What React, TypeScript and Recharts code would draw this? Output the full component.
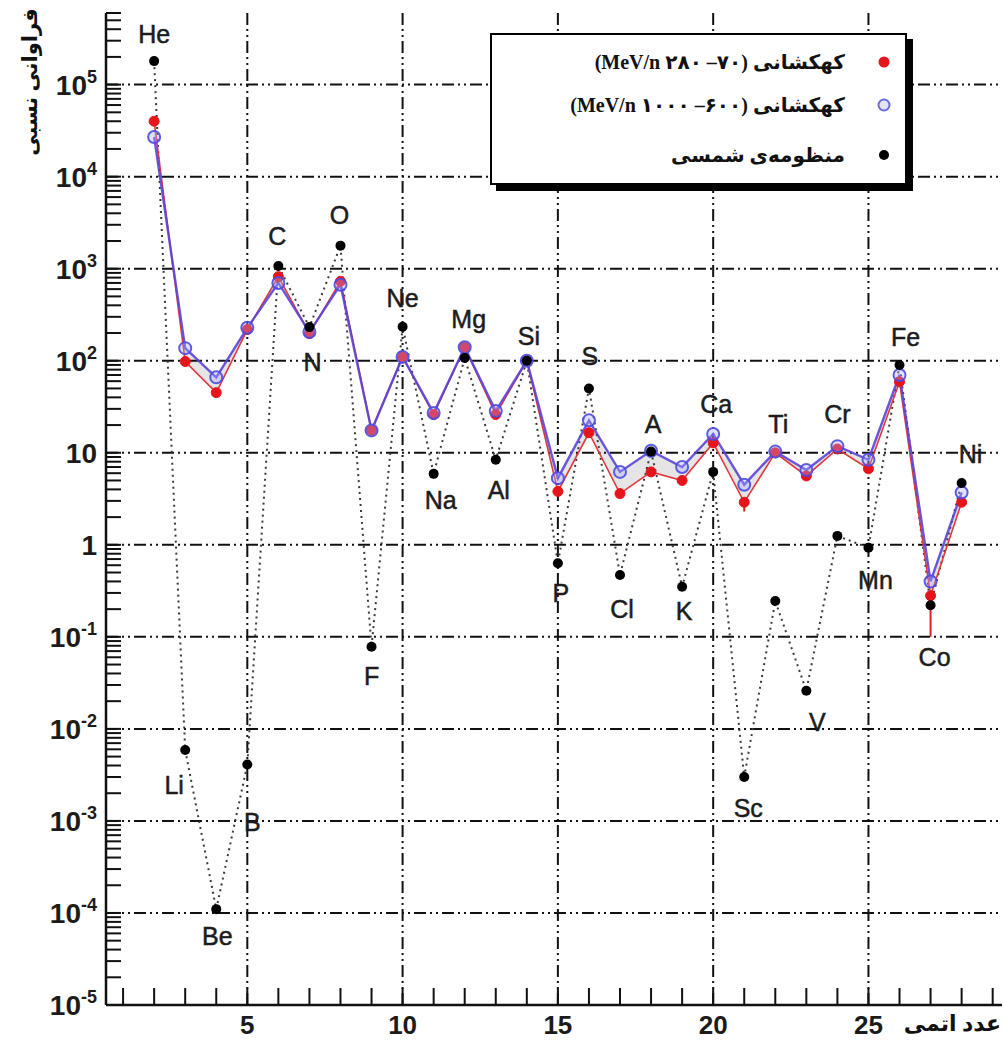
import React from 'react';
import { ComposedChart, Line, Area, XAxis, YAxis, ReferenceLine, LabelList, ErrorBar } from 'recharts';

const atomicNumbers = [2, 3, 4, 5, 6, 7, 8, 9, 10, 11, 12, 13, 14, 15, 16, 17, 18, 19, 20, 21, 22, 23, 24, 25, 26, 27, 28];
const elements = ['He', 'Li', 'Be', 'B', 'C', 'N', 'O', 'F', 'Ne', 'Na', 'Mg', 'Al', 'Si', 'P', 'S', 'Cl', 'A', 'K', 'Ca', 'Sc', 'Ti', 'V', 'Cr', 'Mn', 'Fe', 'Co', 'Ni'];
const solarSystem = [1.8e5, 5.9e-3, 1.1e-4, 4.1e-3, 1.07e3, 232, 1.78e3, 0.078, 234, 5.9, 107, 8.4, 100, 0.63, 50, 0.47, 10.3, 0.35, 6.2, 3.0e-3, 0.245, 0.026, 1.25, 0.93, 90, 0.22, 4.7];
const galactic70to280 = [4.0e4, 98, 45, 218, 820, 197, 730, 17.5, 110, 26, 140, 26, 100, 3.8, 16.5, 3.6, 6.2, 5.0, 12.8, 2.9, 10, 5.6, 11, 6.7, 59, 0.28, 2.9];
const galactic600to1000 = [2.7e4, 137, 66, 228, 700, 205, 670, 17.5, 110, 27, 140, 28.5, 100, 5.3, 22.5, 6.2, 10.5, 7.0, 16, 4.5, 10.3, 6.5, 11.8, 8.4, 70, 0.4, 3.7];
const galactic70to280ErrLow = [0, 0, 0, 0, 0, 0, 0, 0, 0, 0, 0, 0, 0, 0, 0, 0, 0, 0, 0, 0.6, 0, 0, 0, 0, 0, 0.18, 0];
const xTickLabels = [5, 10, 15, 20, 25];
const xMinorTicks = Array.from({ length: 29 }, (_, i) => i + 1);
const yDecades = [-5, -4, -3, -2, -1, 0, 1, 2, 3, 4, 5];
const legendLabels = ['کهکشانی (۷۰– ۲۸۰ MeV/n)', 'کهکشانی (۶۰۰– ۱۰۰۰ MeV/n)', 'منظومه‌ی شمسی'];
const yTitle = 'فراوانی نسبی';
const xTitle = 'عدد اتمی';

// label offsets (pixels) for element symbols relative to the solar point
const labelOffsets: [number, number][] = [
  [0, -27], [-11, 35], [1, 27], [5, 57], [-1, -30], [3, 35], [-1, -31], [0, 29], [0, -29], [7, 26],
  [4, -39], [3, 30], [2, -25], [3, 30], [1, -32], [2, 34], [2, -28], [2, 24], [3, -68], [4, 31],
  [3, -177], [11, 31], [0, -122], [7, 32], [6, -28], [4, 52], [9, -29],
];

const rows = atomicNumbers.map((z, i) => ({
  z,
  sym: elements[i],
  solar: solarSystem[i],
  red: galactic70to280[i],
  blue: galactic600to1000[i],
  band: [galactic70to280[i], galactic600to1000[i]],
  redErr: [galactic70to280ErrLow[i], 0],
}));

const yTicks: number[] = [];
yDecades.forEach((e) => {
  for (let m = 1; m <= 9; m++) {
    const v = Number((m * Math.pow(10, e)).toPrecision(3));
    if (v <= 6e5) yTicks.push(v);
  }
});

const GRID_DASH = '12 4 2 4 2 4';
const AXIS_COLOR = '#111';
const LATIN = "'Liberation Sans', Arial, sans-serif";
const PERSIAN = "'Liberation Serif', 'DejaVu Sans', serif";

const YTick = (props: any) => {
  const { x, y, payload } = props;
  const v = payload.value;
  const e = Math.round(Math.log10(v));
  const major = Math.abs(v - Math.pow(10, e)) < 1e-6 * Math.pow(10, e);
  return (
    <g>
      <line x1={x} x2={x + 15} y1={y} y2={y} stroke={AXIS_COLOR} strokeWidth={2} />
      {major && (
        <text x={x - 9} y={y + 10} textAnchor="end" fontFamily={LATIN} fontWeight="bold" fontSize={28} fill="#1b1b1b">
          {e === 0 ? '1' : e === 1 ? '10' : (
            <>
              <tspan>10</tspan>
              <tspan dy={-12} fontSize={18}>{String(e)}</tspan>
            </>
          )}
        </text>
      )}
    </g>
  );
};

const XTick = (props: any) => {
  const { x, y, payload } = props;
  const v = payload.value;
  return (
    <g>
      <line x1={x} x2={x} y1={y} y2={y - 17} stroke={AXIS_COLOR} strokeWidth={2} />
      {xTickLabels.includes(v) && (
        <text x={x} y={y + 29} textAnchor="middle" fontFamily={LATIN} fontWeight="bold" fontSize={26} fill="#1b1b1b">
          {v}
        </text>
      )}
    </g>
  );
};

const ElementLabel = (p: any) => {
  const i = p.index;
  const [dx, dy] = labelOffsets[i] || [0, 0];
  return (
    <text
      x={p.x + dx}
      y={p.y + dy}
      textAnchor="middle"
      dominantBaseline="central"
      fontFamily={LATIN}
      fontSize={25}
      fill="#1c1c1c"
      stroke="#1c1c1c"
      strokeWidth={0.5}
    >
      {p.value}
    </text>
  );
};

export default function App() {
  return (
    <div style={{ position: 'absolute', left: 0, top: 0, width: 1003, height: 1040, overflow: 'hidden', background: '#fff' }}>
      <ComposedChart width={1003} height={1040} data={rows} margin={{ top: 13, right: 1, bottom: 0, left: 0 }}>
        <XAxis
          type="number"
          dataKey="z"
          domain={[0.45, 29.3]}
          allowDataOverflow
          ticks={xMinorTicks}
          interval={0}
          tick={<XTick />}
          tickLine={false}
          tickSize={0}
          tickMargin={0}
          height={35}
          axisLine={{ stroke: AXIS_COLOR, strokeWidth: 2.5 }}
        />
        <YAxis
          type="number"
          scale="log"
          domain={[1e-5, 6e5]}
          allowDataOverflow
          ticks={yTicks}
          interval={0}
          tick={<YTick />}
          tickLine={false}
          tickSize={0}
          tickMargin={0}
          width={106}
          axisLine={{ stroke: AXIS_COLOR, strokeWidth: 2.5 }}
        />
        {yDecades.filter((e) => e > -5).map((e) => (
          <ReferenceLine key={'h' + e} y={Math.pow(10, e)} stroke={AXIS_COLOR} strokeWidth={2} strokeDasharray={GRID_DASH} />
        ))}
        {xTickLabels.map((v) => (
          <ReferenceLine key={'v' + v} x={v} stroke={AXIS_COLOR} strokeWidth={2} strokeDasharray={GRID_DASH} />
        ))}
        <Area dataKey="band" type="linear" stroke="none" fill="#d4d4d4" fillOpacity={0.6} isAnimationActive={false} />
        <Line dataKey="solar" type="linear" stroke="#3a3a3a" strokeWidth={2} strokeDasharray="2 4" dot={false} isAnimationActive={false} />
        <Line
          dataKey="red"
          type="linear"
          stroke="#e0393c"
          strokeWidth={1.6}
          dot={{ r: 5, fill: '#e8141c', stroke: '#e8141c', strokeWidth: 1 }}
          isAnimationActive={false}
        >
          <ErrorBar dataKey="redErr" direction="y" width={0} stroke="#d22" strokeWidth={2} />
        </Line>
        <Line
          dataKey="blue"
          type="linear"
          stroke="#5a44d8"
          strokeWidth={2.4}
          strokeOpacity={0.9}
          dot={{ r: 6, fill: 'rgba(170,170,255,0.35)', stroke: '#4b4be0', strokeWidth: 2 }}
          isAnimationActive={false}
        />
        <Line
          dataKey="solar"
          type="linear"
          stroke="none"
          dot={{ r: 5, fill: '#000', stroke: '#000', strokeWidth: 0 }}
          isAnimationActive={false}
        >
          <LabelList dataKey="sym" content={<ElementLabel />} />
        </Line>
      </ComposedChart>

      {/* Legend */}
      <div
        style={{
          position: 'absolute',
          left: 490,
          top: 33,
          width: 413,
          height: 148,
          border: '2px solid #000',
          background: '#fff',
          boxShadow: '6px 6px 0 #000',
        }}
      >
        {legendLabels.map((t, i) => {
          const cy = [27, 70, 120][i];
          return (
            <React.Fragment key={i}>
              <div
                dir="rtl"
                style={{
                  position: 'absolute',
                  right: 60,
                  top: cy - 14,
                  height: 28,
                  lineHeight: '28px',
                  whiteSpace: 'nowrap',
                  fontFamily: PERSIAN,
                  fontWeight: 'bold',
                  fontSize: 20,
                  color: '#111',
                }}
              >
                {t}
              </div>
              <svg style={{ position: 'absolute', left: 383, top: cy - 9 }} width={18} height={18}>
                {i === 0 && <circle cx={9} cy={9} r={5.5} fill="#e8141c" />}
                {i === 1 && <circle cx={9} cy={9} r={5.5} fill="#e4e4ff" stroke="#6a6ad8" strokeWidth={2} />}
                {i === 2 && <circle cx={9} cy={9} r={5} fill="#000" />}
              </svg>
            </React.Fragment>
          );
        })}
      </div>

      {/* Y axis title */}
      <div
        dir="rtl"
        style={{
          position: 'absolute',
          left: 30,
          top: 82,
          transform: 'translate(-50%, -50%) rotate(-90deg)',
          whiteSpace: 'nowrap',
          fontFamily: PERSIAN,
          fontWeight: 'bold',
          fontSize: 21,
          color: '#111',
        }}
      >
        {yTitle}
      </div>

      {/* X axis title */}
      <div
        dir="rtl"
        style={{
          position: 'absolute',
          right: 2,
          top: 1011,
          whiteSpace: 'nowrap',
          fontFamily: PERSIAN,
          fontWeight: 'bold',
          fontSize: 22,
          color: '#111',
        }}
      >
        {xTitle}
      </div>
    </div>
  );
}
